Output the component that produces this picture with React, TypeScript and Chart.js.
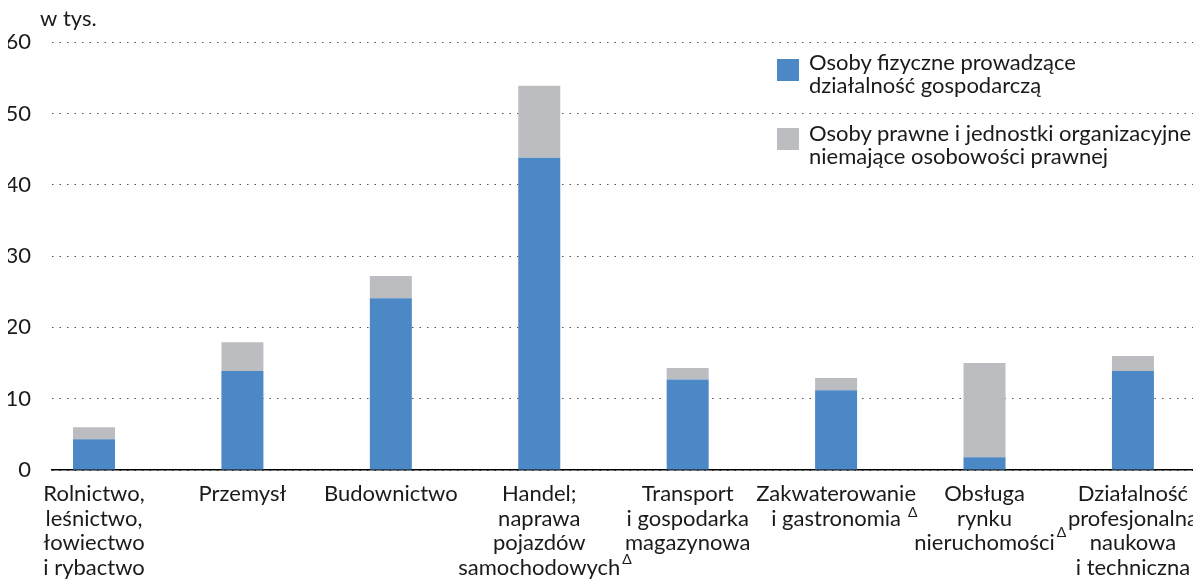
import React, { useEffect, useRef } from "react";
import { Chart, registerables } from "chart.js";

Chart.register(...registerables);

// ---- data ----
const categories: string[][] = [
  ["Rolnictwo,", "leśnictwo,", "łowiectwo", "i rybactwo"],
  ["Przemysł"],
  ["Budownictwo"],
  ["Handel;", "naprawa", "pojazdów", "samochodowych"],
  ["Transport", "i gospodarka", "magazynowa"],
  ["Zakwaterowanie", "i gastronomia"],
  ["Obsługa", "rynku", "nieruchomości"],
  ["Działalność", "profesjonalna", "naukowa", "i techniczna"],
];
// categories whose label carries a superscript footnote sign
const footnoteMarks = [
  { category: 3, line: 3, sign: "Δ" },
  { category: 5, line: 1, sign: "Δ" },
  { category: 6, line: 2, sign: "Δ" },
];
const physicalPersons = [4.3, 13.9, 24.1, 43.8, 12.7, 11.2, 1.8, 13.9];
const legalEntities = [1.7, 4.0, 3.1, 10.1, 1.6, 1.7, 13.2, 2.1];
const seriesNames: string[][] = [
  ["Osoby fizyczne prowadzące", "działalność gospodarczą"],
  ["Osoby prawne i jednostki organizacyjne", "niemające osobowości prawnej"],
];
const yTicks = [0, 10, 20, 30, 40, 50, 60];
const unitLabel = "w tys.";

// ---- styles ----
const BLUE = "#4c88c6";
const GRAY = "#bcbdc1";
const TEXT = "#1a1a1a";
const FONT_FAMILY = "Lato, 'Noto Sans', sans-serif";
const FONT_SIZE = 22;
const LINE_H = 24.5;
const X_TICK_PAD = 12;
const colors = [BLUE, GRAY];

const CANVAS_W = 1260;
const CANVAS_H = 600;
const Y_AXIS_W = 44;
const X_AXIS_H = 138;

const unitPlugin = {
  id: "unitLabel",
  afterDraw(chart: any) {
    const { ctx, chartArea } = chart;
    ctx.save();
    ctx.font = `${FONT_SIZE}px ${FONT_FAMILY}`;
    ctx.fillStyle = TEXT;
    ctx.textAlign = "left";
    ctx.textBaseline = "alphabetic";
    ctx.fillText(unitLabel, chartArea.left - 12, chartArea.top - 16);
    ctx.restore();
  },
};

const footnotePlugin = {
  id: "footnoteMarks",
  afterDraw(chart: any) {
    const { ctx } = chart;
    const xs = chart.scales.x;
    ctx.save();
    ctx.fillStyle = TEXT;
    ctx.textAlign = "left";
    ctx.textBaseline = "middle";
    for (const m of footnoteMarks) {
      const text = categories[m.category][m.line];
      ctx.font = `${FONT_SIZE}px ${FONT_FAMILY}`;
      const w = ctx.measureText(text).width;
      const cx = xs.getPixelForValue(m.category);
      const mid = xs.top + X_TICK_PAD + LINE_H / 2 + m.line * LINE_H;
      ctx.font = `14px ${FONT_FAMILY}`;
      const gap = m.category === 5 ? 7 : 2;
      const raise = m.category === 5 ? 6 : m.category === 6 ? 11 : 8;
      ctx.fillText(m.sign, cx + w / 2 + gap, mid - raise);
    }
    ctx.restore();
  },
};

export default function App() {
  const canvasRef = useRef<HTMLCanvasElement | null>(null);

  useEffect(() => {
    const canvas = canvasRef.current;
    if (!canvas) return;
    const prevMarginBottom = document.body.style.marginBottom;
    document.body.style.marginBottom = "0px";
    const font = { family: FONT_FAMILY, size: FONT_SIZE, lineHeight: LINE_H / FONT_SIZE };
    const chart = new Chart(canvas, {
      type: "bar",
      data: {
        datasets: [
          {
            label: seriesNames[0].join(" "),
            data: physicalPersons.map((v, i) => ({ x: i, y: v })),
            backgroundColor: colors[0],
            borderWidth: 0,
            barPercentage: 1,
            categoryPercentage: 0.283,
          },
          {
            label: seriesNames[1].join(" "),
            data: legalEntities.map((v, i) => ({ x: i, y: v })),
            backgroundColor: colors[1],
            borderWidth: 0,
            barPercentage: 1,
            categoryPercentage: 0.283,
          },
        ] as any,
      },
      options: {
        animation: false,
        responsive: false,
        devicePixelRatio: 1,
        layout: { padding: { top: 33, right: 0, bottom: 0, left: 0 } },
        plugins: {
          legend: { display: false },
          tooltip: { enabled: false },
          title: { display: false },
        },
        scales: {
          x: {
            type: "linear",
            stacked: true,
            offset: false,
            bounds: "data",
            min: -0.283,
            max: 7.91,
            grid: { display: false, drawTicks: false },
            border: { display: true, color: "#000", width: 1.5 },
            afterBuildTicks: (scale: any) => {
              scale.ticks = categories.map((_, i) => ({ value: i }));
            },
            afterFit: (scale: any) => {
              scale.paddingLeft = 0;
              scale.paddingRight = 0;
              scale.height = X_AXIS_H;
            },
            ticks: {
              autoSkip: false,
              maxRotation: 0,
              minRotation: 0,
              padding: X_TICK_PAD,
              color: TEXT,
              font,
              callback: (v: any) => categories[Math.round(Number(v))] ?? "",
            },
          },
          y: {
            stacked: true,
            min: 0,
            max: 60,
            afterBuildTicks: (scale: any) => {
              scale.ticks = yTicks.map((v) => ({ value: v }));
            },
            afterFit: (scale: any) => {
              scale.width = Y_AXIS_W;
            },
            grid: { color: "#555", lineWidth: 1, drawTicks: false },
            border: { display: false, dash: [1.5, 6] },
            ticks: {
              padding: 21,
              color: TEXT,
              font: { family: FONT_FAMILY, size: FONT_SIZE },
            },
          },
        },
      } as any,
      plugins: [unitPlugin, footnotePlugin],
    });
    return () => {
      chart.destroy();
      document.body.style.marginBottom = prevMarginBottom;
    };
  }, []);

  const legendTops = [51, 120];
  const textTops = [42, 113];

  return (
    <div
      style={{
        position: "relative",
        width: 1193,
        height: 573,
        overflow: "hidden",
      }}
    >
      <canvas
        ref={canvasRef}
        width={CANVAS_W}
        height={CANVAS_H}
        style={{ width: CANVAS_W, height: CANVAS_H, display: "block" }}
      />
      {seriesNames.map((lines, i) => (
        <React.Fragment key={i}>
          <div
            style={{
              position: "absolute",
              left: 769,
              top: legendTops[i],
              width: 22,
              height: 22,
              background: colors[i],
            }}
          />
          <div
            style={{
              position: "absolute",
              left: 801,
              top: textTops[i],
              fontFamily: FONT_FAMILY,
              fontSize: FONT_SIZE,
              lineHeight: "23px",
              color: TEXT,
              whiteSpace: "nowrap",
            }}
          >
            {lines.map((l, j) => (
              <div key={j}>{l}</div>
            ))}
          </div>
        </React.Fragment>
      ))}
    </div>
  );
}
